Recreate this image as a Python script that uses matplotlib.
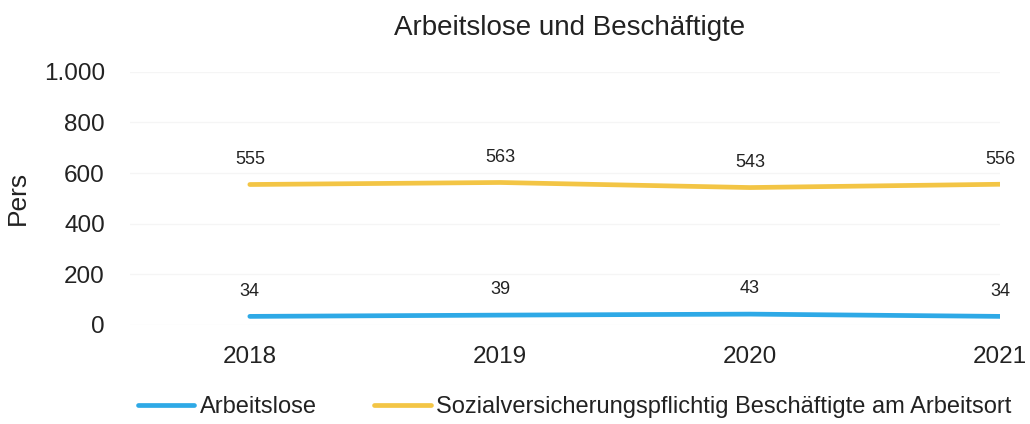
import matplotlib.pyplot as plt

plt.rcParams['font.family'] = ['Liberation Sans', 'DejaVu Sans']

years = [2018, 2019, 2020, 2021]
arbeitslose = [34, 39, 43, 34]
beschaeftigte = [555, 563, 543, 556]
labels = ['Arbeitslose', 'Sozialversicherungspflichtig Beschäftigte am Arbeitsort']
colors = ['#2ea9e6', '#f3c545']
text_col = '#222222'

fig = plt.figure(figsize=(10.3, 4.24), dpi=100)
ax = fig.add_axes([0.126, 0.2335, 0.845, 0.597])

for vals, lab, col in zip([arbeitslose, beschaeftigte], labels, colors):
    ax.plot(years, vals, color=col, lw=3.4, label=lab, solid_capstyle='round')
    for x, y in zip(years, vals):
        ax.annotate(str(y), (x, y), xytext=(0, 12), textcoords='offset points',
                    ha='center', va='bottom', fontsize=13, color=text_col)

ax.set_xlim(2017.52, 2021.0)
ax.set_ylim(0, 1000)
ax.set_yticks([0, 200, 400, 600, 800, 1000])
ax.set_yticklabels(['0', '200', '400', '600', '800', '1.000'])
ax.set_xticks(years)
ax.tick_params(axis='y', length=0, pad=18, labelsize=17.5, labelcolor=text_col)
ax.tick_params(axis='x', length=0, pad=15, labelsize=17.5, labelcolor=text_col)
ax.grid(axis='y', color='#f5f5f5', lw=1)
ax.set_axisbelow(True)
for s in ax.spines.values():
    s.set_visible(False)

ax.set_ylabel('Pers', fontsize=19, color=text_col, labelpad=10)
fig.text(0.553, 0.935, 'Arbeitslose und Beschäftigte', ha='center', va='center',
         fontsize=20, color=text_col)

fig.legend(loc='center left', bbox_to_anchor=(0.113, 0.04), ncol=2, frameon=False,
           fontsize=17, handlelength=2.4, handletextpad=0.25, columnspacing=2.4,
           labelcolor=text_col)

fig.savefig('out.png', dpi=100)
